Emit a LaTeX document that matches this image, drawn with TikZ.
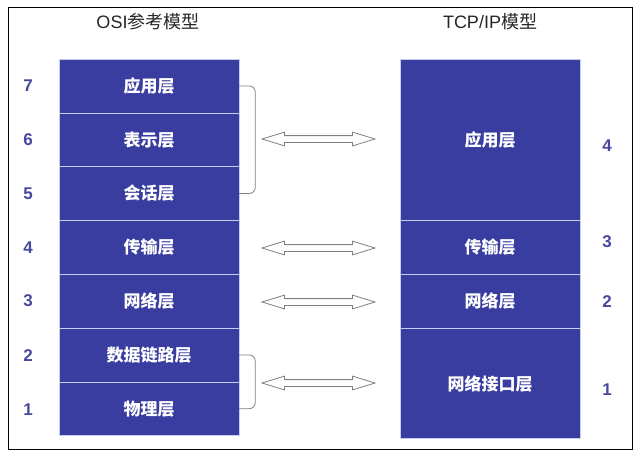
\documentclass[tikz,border=0pt]{standalone}
\usepackage{fontspec}
\setmainfont{Liberation Sans}
\newfontfamily\cjk{Noto Sans CJK SC}
\usetikzlibrary{shapes.arrows}
\definecolor{osiblue}{RGB}{58,61,160}
\definecolor{sepline}{RGB}{196,204,240}
\definecolor{numblue}{RGB}{72,72,160}

\begin{document}
\begin{tikzpicture}[x=1pt, y=-1pt,
  layer/.style={draw=sepline, fill=osiblue, text=white, minimum width=180pt,
    inner sep=0pt, font=\cjk\bfseries\fontsize{17}{20}\selectfont},
  num/.style={text=numblue, font=\bfseries\fontsize{17}{20}\selectfont},
  title/.style={text=black!85, font=\fontsize{18}{21}\selectfont},
  swap/.style={double arrow, draw=gray, fill=white, line width=0.8pt,
    minimum height=113pt, minimum width=13pt, inner sep=3pt,
    double arrow head extend=3.5pt, double arrow tip angle=34},
  brace/.style={draw=gray, line width=0.8pt, rounded corners=6pt}]
  \useasboundingbox (0,0) rectangle (639,459);
  \draw[line width=1pt] (8,7) rectangle (632,449);

  \node[title] (osi) at (148,22) {OSI{\cjk 参考模型}};
  \node[title] (tcp) at (490,22) {TCP/IP{\cjk 模型}};

  % OSI column
  \node[layer, minimum height=53.8pt] (o7) at (149,85.9) {应用层};
  \node[layer, minimum height=53.8pt] (o6) at (149,139.7) {表示层};
  \node[layer, minimum height=53.8pt] (o5) at (149,193.5) {会话层};
  \node[layer, minimum height=53.8pt] (o4) at (149,247.3) {传输层};
  \node[layer, minimum height=53.8pt] (o3) at (149,301.1) {网络层};
  \node[layer, minimum height=53.8pt] (o2) at (149,354.9) {数据链路层};
  \node[layer, minimum height=53.8pt] (o1) at (149,408.7) {物理层};

  % TCP/IP column
  \node[layer, minimum height=161.4pt] (t4) at (490,139.7) {应用层};
  \node[layer, minimum height=53.8pt] (t3) at (490,247.3) {传输层};
  \node[layer, minimum height=53.8pt] (t2) at (490,301.1) {网络层};
  \node[layer, minimum height=110pt] (t1) at (490,383.6) {网络接口层};

  \node[num] (n7) at (28,85.9) {7};
  \node[num] (n6) at (28,139.7) {6};
  \node[num] (n5) at (28,193.5) {5};
  \node[num] (n4) at (28,247.3) {4};
  \node[num] (n3) at (28,301.1) {3};
  \node[num] (n2) at (28,356) {2};
  \node[num] (n1) at (28,410) {1};
  \node[num] (m4) at (607,146) {4};
  \node[num] (m3) at (607,242) {3};
  \node[num] (m2) at (607,302) {2};
  \node[num] (m1) at (607,390) {1};

  % brackets
  \draw[brace] (o7.east) -- ++(16,0) |- (o5.east);
  \draw[brace] (o2.east) -- ++(16,0) |- (o1.east);

  % correspondence arrows
  \node[swap] (a4) at (318.5,139) {};
  \node[swap] (a3) at (318.5,248) {};
  \node[swap] (a2) at (318.5,302) {};
  \node[swap] (a1) at (318.5,383) {};
\end{tikzpicture}
\end{document}
